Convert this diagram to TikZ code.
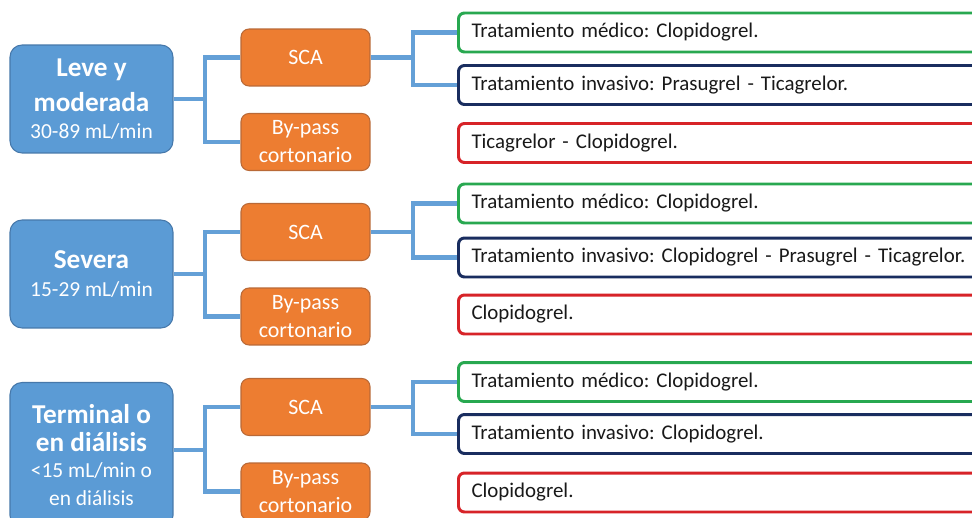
\documentclass[tikz,border=0pt]{standalone}
\usepackage{fontspec}
\setmainfont{Carlito}
\frenchspacing

\definecolor{azul}{RGB}{91,155,213}
\definecolor{azulborde}{RGB}{70,120,170}
\definecolor{naranja}{RGB}{237,125,49}
\definecolor{naranjaborde}{RGB}{185,105,55}
\definecolor{verde}{RGB}{40,168,80}
\definecolor{marino}{RGB}{25,45,95}
\definecolor{rojo}{RGB}{215,35,40}
\definecolor{linea}{RGB}{100,160,215}

\begin{document}
\begin{tikzpicture}[x=0.02cm,y=-0.02cm,
    grado/.style={draw=azulborde, line width=0.6pt, fill=azul, rounded corners=0.24cm,
        text=white, align=center, minimum width=3.26cm, minimum height=2.16cm, inner sep=0pt,
        font=\fontsize{15.5}{20}\selectfont\bfseries},
    caso/.style={draw=naranjaborde, line width=0.6pt, fill=naranja, rounded corners=0.16cm,
        text=white, align=center, minimum width=2.58cm, minimum height=1.14cm, inner sep=0pt,
        font=\fontsize{12.5}{15.9}\selectfont},
    trat/.style={draw=#1, line width=1.7pt, fill=white, rounded corners=0.12cm, anchor=west,
        minimum height=0.78cm, text width=10.28cm, align=left, inner xsep=0.26cm, inner ysep=0pt,
        text=black!90, font=\fontsize{11.9}{14}\selectfont},
    rama/.style={draw=linea, line width=2.4pt}]

    \path[fill=white,use as bounding box] (0,0) rectangle (972,517);

    % leve y moderada
    \node[grado] (b1) at (91.5,99) {Leve y\\ moderada\\[-4.7pt] \mdseries\fontsize{12.2}{15}\selectfont 30-89 mL/min};
    \node[caso] (s1) at (305.5,57.5) {SCA};
    \node[caso] (p1) at (305.5,142) {By-pass\\ cortonario};
    \node[trat=verde] (g1) at (457,32.5) {Tratamiento médico: Clopidogrel.};
    \node[trat=marino] (v1) at (457,85) {Tratamiento invasivo: Prasugrel - Ticagrelor.};
    \node[trat=rojo] (r1) at (457,143) {Ticagrelor - Clopidogrel.};
    \coordinate (j1) at (205,99);
    \coordinate (k1) at (413,57.5);

    % severa
    \node[grado] (b2) at (91.5,274) {Severa\\[-4pt] \mdseries\fontsize{12.2}{15}\selectfont 15-29 mL/min};
    \node[caso] (s2) at (305.5,232) {SCA};
    \node[caso] (p2) at (305.5,316.5) {By-pass\\ cortonario};
    \node[trat=verde] (g2) at (457,203.5) {Tratamiento médico: Clopidogrel.};
    \node[trat=marino] (v2) at (457,257.5) {Tratamiento invasivo: Clopidogrel - Prasugrel - Ticagrelor.};
    \node[trat=rojo] (r2) at (457,314.5) {Clopidogrel.};
    \coordinate (j2) at (205,274);
    \coordinate (k2) at (413,232);

    % terminal o en dialisis
    \node[grado, minimum height=2.9cm, font=\fontsize{15.5}{16}\selectfont\bfseries] (b3) at (91.5,455)
        {Terminal o\\ en diálisis\\[-1pt] \mdseries\fontsize{12.2}{15}\selectfont <15 mL/min o\\ \mdseries\fontsize{12.2}{15}\selectfont en diálisis};
    \node[caso] (s3) at (305.5,407) {SCA};
    \node[caso] (p3) at (305.5,491.5) {By-pass\\ cortonario};
    \node[trat=verde] (g3) at (457,382) {Tratamiento médico: Clopidogrel.};
    \node[trat=marino] (v3) at (457,434) {Tratamiento invasivo: Clopidogrel.};
    \node[trat=rojo] (r3) at (457,492.5) {Clopidogrel.};
    \coordinate (j3) at (205,450);
    \coordinate (k3) at (413,407);

    \draw[rama] (j1 -| b1.east) -- (j1);
    \draw[rama] (s1.west) -| (j1);
    \draw[rama] (p1.west) -| (j1);
    \draw[rama] (s1.east) -- (k1);
    \draw[rama] (g1.west) -| (k1);
    \draw[rama] (v1.west) -| (k1);

    \draw[rama] (j2 -| b2.east) -- (j2);
    \draw[rama] (s2.west) -| (j2);
    \draw[rama] (p2.west) -| (j2);
    \draw[rama] (s2.east) -- (k2);
    \draw[rama] (g2.west) -| (k2);
    \draw[rama] (v2.west) -| (k2);

    \draw[rama] (j3 -| b3.east) -- (j3);
    \draw[rama] (s3.west) -| (j3);
    \draw[rama] (p3.west) -| (j3);
    \draw[rama] (s3.east) -- (k3);
    \draw[rama] (g3.west) -| (k3);
    \draw[rama] (v3.west) -| (k3);

\end{tikzpicture}
\end{document}
